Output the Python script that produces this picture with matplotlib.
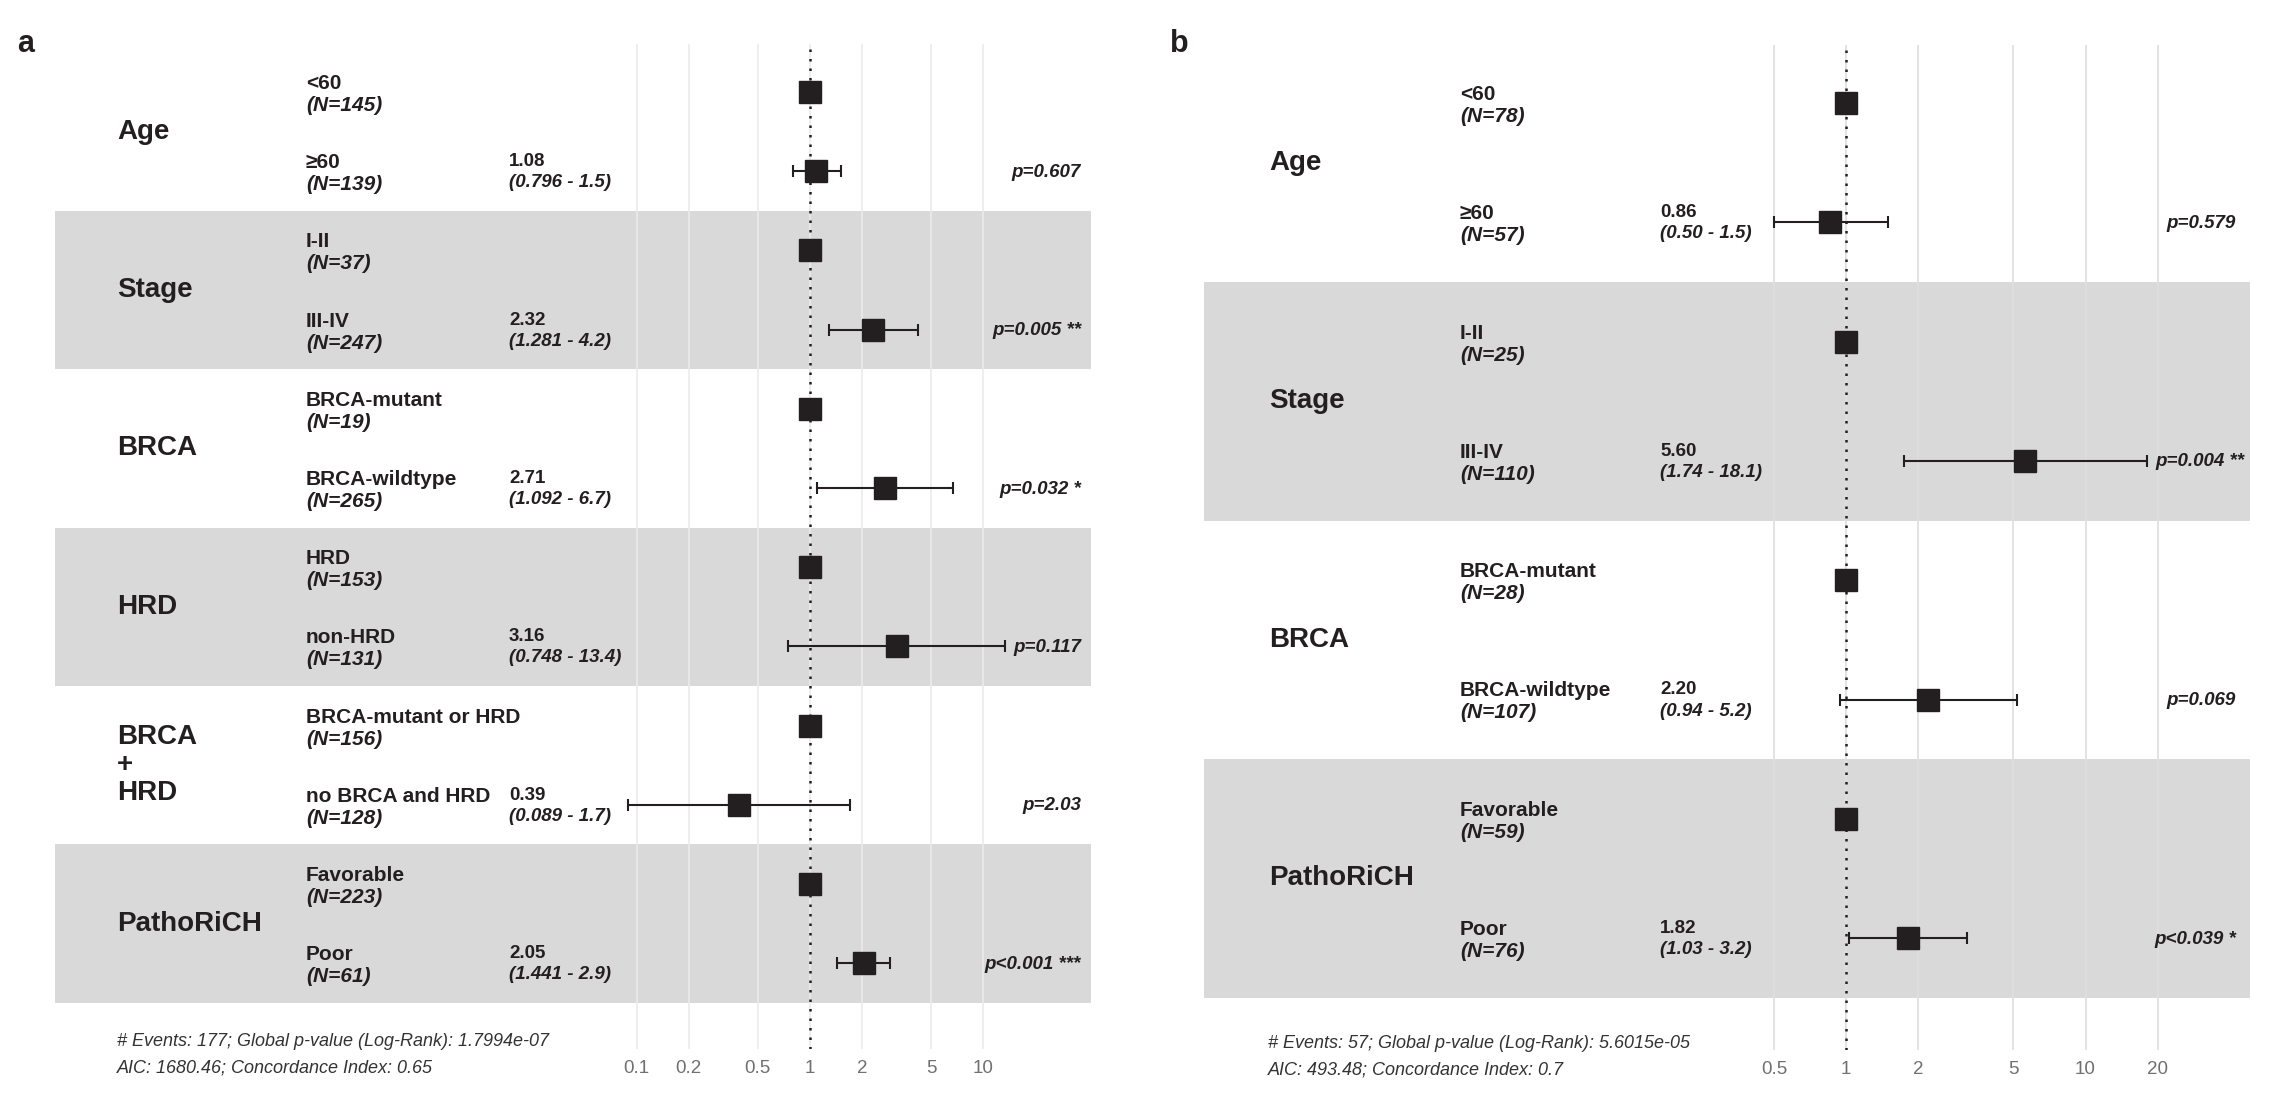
import matplotlib.pyplot as plt
import matplotlib.transforms as mtransforms
from matplotlib.ticker import NullLocator

plt.rcParams['font.family'] = ['Liberation Sans', 'DejaVu Sans']

W, H = 2280, 1114
INK = '#231f20'
BAND = '#d9d9d9'

# ---- panel a data ----
cats_a = ['Age', 'Stage', 'BRCA', 'HRD', 'BRCA\n+\nHRD', 'PathoRiCH']
levels_a = [('<60', '≥60'), ('I-II', 'III-IV'), ('BRCA-mutant', 'BRCA-wildtype'),
            ('HRD', 'non-HRD'), ('BRCA-mutant or HRD', 'no BRCA and HRD'),
            ('Favorable', 'Poor')]
n_a = [145, 139, 37, 247, 19, 265, 153, 131, 156, 128, 223, 61]
hr_a = [1.08, 2.32, 2.71, 3.16, 0.39, 2.05]
lo_a = [0.796, 1.281, 1.092, 0.748, 0.089, 1.441]
hi_a = [1.5, 4.2, 6.7, 13.4, 1.7, 2.9]
p_a = ['p=0.607', 'p=0.005 **', 'p=0.032 *', 'p=0.117', 'p=2.03', 'p<0.001 ***']
ticks_a = [0.1, 0.2, 0.5, 1, 2, 5, 10]
tick_labels_a = ['0.1', '0.2', '0.5', '1', '2', '5', '10']
foot_a = ['# Events: 177; Global p-value (Log-Rank): 1.7994e-07',
          'AIC: 1680.46; Concordance Index: 0.65']

# ---- panel b data ----
cats_b = ['Age', 'Stage', 'BRCA', 'PathoRiCH']
levels_b = [('<60', '≥60'), ('I-II', 'III-IV'), ('BRCA-mutant', 'BRCA-wildtype'),
            ('Favorable', 'Poor')]
n_b = [78, 57, 25, 110, 28, 107, 59, 76]
hr_b = [0.86, 5.60, 2.20, 1.82]
lo_b = [0.50, 1.74, 0.94, 1.03]
hi_b = [1.5, 18.1, 5.2, 3.2]
p_b = ['p=0.579', 'p=0.004 **', 'p=0.069', 'p<0.039 *']
ticks_b = [0.5, 1, 2, 5, 10, 20]
tick_labels_b = ['0.5', '1', '2', '5', '10', '20']
foot_b = ['# Events: 57; Global p-value (Log-Rank): 5.6015e-05',
          'AIC: 493.48; Concordance Index: 0.7']

# layout in pixels (top-down)
lay_a = dict(letter='a', lx=17, ly=52, left=55, right=1091, top=44, bottom=1049,
             x_one=810, decade=173.3, row0=92, pitch=79.2,
             x_cat=117, x_lvl=306, x_hr=509, x_p=1081, grid='#ebebeb',
             ci_fmt='({:.3f} - {:.1f})', foot_x=117, foot_y=(1042, 1068), p_nudge={})
lay_b = dict(letter='b', lx=1170, ly=52, left=1204, right=2250, top=45, bottom=1050,
             x_one=1846, decade=239.5, row0=103, pitch=119.3,
             x_cat=1269, x_lvl=1460, x_hr=1660, x_p=2236, grid='#dedede',
             ci_fmt='({:.2f} - {:.1f})', foot_x=1268, foot_y=(1043, 1070), p_nudge={1: 8})

fig = plt.figure(figsize=(W / 100, H / 100), dpi=100)


def off(tr, dy_px):
    # dy_px > 0 moves down on the page
    return mtransforms.offset_copy(tr, fig=fig, x=0, y=-dy_px, units='dots')


def draw_panel(lay, cats, levels, ns, hrs, los, his, ps, ticks, tick_labels, foot):
    ax = fig.add_axes([lay['left'] / W, 1 - lay['bottom'] / H,
                       (lay['right'] - lay['left']) / W,
                       (lay['bottom'] - lay['top']) / H])
    ax.set_xscale('log')
    ax.set_xlim(10 ** ((lay['left'] - lay['x_one']) / lay['decade']),
                10 ** ((lay['right'] - lay['x_one']) / lay['decade']))
    ax.set_ylim((lay['bottom'] - lay['row0']) / lay['pitch'],
                (lay['top'] - lay['row0']) / lay['pitch'])
    ax.set_xticks(ticks)
    ax.set_xticklabels(tick_labels)
    ax.xaxis.set_minor_locator(NullLocator())
    ax.set_yticks([])
    ax.tick_params(axis='x', length=0, pad=8, labelsize=13.5, labelcolor='#707070')
    for s in ax.spines.values():
        s.set_visible(False)
    ax.grid(axis='x', color=lay['grid'], lw=1.2)

    tr = mtransforms.blended_transform_factory(fig.transFigure, ax.transData)

    for g, cat in enumerate(cats):
        r_ref, r = 2 * g, 2 * g + 1
        if g % 2 == 1:
            ax.axhspan(r_ref - 0.5, r + 0.5, color=BAND, lw=0, zorder=1)

        # category label
        lines = cat.split('\n')
        yc = (r_ref + r) / 2
        for k, line in enumerate(lines):
            dy = (k - (len(lines) - 1) / 2) * 28
            ax.text(lay['x_cat'] / W, yc, line, transform=off(tr, dy),
                    fontsize=20, fontweight='bold', color=INK, va='center', ha='left')

        # level labels
        for j, row in enumerate((r_ref, r)):
            ax.text(lay['x_lvl'] / W, row, levels[g][j], transform=off(tr, -8.5),
                    fontsize=15, fontweight='bold', color=INK, va='center')
            ax.text(lay['x_lvl'] / W, row, f'(N={ns[row]})', transform=off(tr, 13.5),
                    fontsize=15, fontweight='bold', fontstyle='italic', color=INK,
                    va='center')

        # estimates
        ax.errorbar([hrs[g]], [r], xerr=[[hrs[g] - los[g]], [his[g] - hrs[g]]],
                    fmt='none', ecolor=INK, elinewidth=1.5, capsize=4.2,
                    capthick=1.5, zorder=2)
        ax.plot([1, hrs[g]], [r_ref, r], ls='none', marker='s', ms=16.5,
                mfc=INK, mec=INK, zorder=3)

        ax.text(lay['x_hr'] / W, r, f'{hrs[g]:.2f}', transform=off(tr, -9.5),
                fontsize=13.5, fontweight='bold', color=INK, va='center')
        ax.text(lay['x_hr'] / W, r, lay['ci_fmt'].format(los[g], his[g]),
                transform=off(tr, 11.5), fontsize=13.5, fontweight='bold',
                fontstyle='italic', color=INK, va='center')
        px = lay['x_p'] + lay['p_nudge'].get(g, 0)
        ax.text(px / W, r, ps[g], transform=off(tr, 1), fontsize=13.5,
                fontweight='bold', fontstyle='italic', color=INK,
                va='center', ha='right')

    ax.axvline(1, color=INK, lw=1.8, ls=(0, (1, 2.8)), zorder=2.5)

    for line, y in zip(foot, lay['foot_y']):
        fig.text(lay['foot_x'] / W, 1 - y / H, line, fontsize=13, fontstyle='italic',
                 color='#333333', va='center', ha='left')

    fig.text(lay['lx'] / W, 1 - lay['ly'] / H, lay['letter'], fontsize=22,
             fontweight='bold', color=INK, va='baseline', ha='left')
    return ax


draw_panel(lay_a, cats_a, levels_a, n_a, hr_a, lo_a, hi_a, p_a,
           ticks_a, tick_labels_a, foot_a)
draw_panel(lay_b, cats_b, levels_b, n_b, hr_b, lo_b, hi_b, p_b,
           ticks_b, tick_labels_b, foot_b)

fig.savefig('out.png', dpi=100)
